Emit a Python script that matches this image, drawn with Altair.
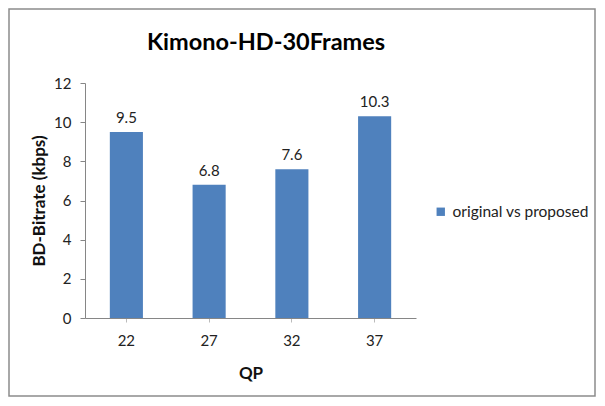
import altair as alt
import pandas as pd

qp = ["22", "27", "32", "37"]
bd_rate = [9.5, 6.8, 7.6, 10.3]
series = ["original vs proposed"] * 4
y_ticks = [0, 2, 4, 6, 8, 10, 12]
chart_title = ["Kimono-HD-30Frames"]

df = pd.DataFrame({"QP": qp, "BD": bd_rate, "series": series})
tdf = pd.DataFrame({"t": chart_title})

FONT = "Lato"
W, H = 331, 235

base = alt.Chart(df).encode(
    x=alt.X("QP:N", sort=qp,
            scale=alt.Scale(paddingInner=0.6, paddingOuter=0.3),
            axis=alt.Axis(title="QP", labelAngle=0, labelFontSize=15, labelColor="#222222",
                          labelFont=FONT, labelPadding=11, tickSize=4, tickColor="#BBBBBB",
                          domainColor="#868686", titleFont=FONT, titleFontSize=17,
                          titleFontWeight="bold", titlePadding=17, titleColor="#111111")),
    y=alt.Y("BD:Q", scale=alt.Scale(domain=[0, 12]),
            axis=alt.Axis(title="BD-Bitrate (kbps)", values=y_ticks, grid=False,
                          labelOverlap=False, labelFontSize=15, labelColor="#222222",
                          labelFont=FONT, labelPadding=9, tickSize=5, tickColor="#868686",
                          domainColor="#868686", titleFont=FONT, titleFontSize=17,
                          titleFontWeight="bold", titlePadding=5, titleColor="#111111")),
)

bars = base.mark_bar(color="#4F81BD").encode(
    color=alt.Color("series:N", scale=alt.Scale(range=["#4F81BD"]),
                    legend=alt.Legend(title=None, orient="none", legendX=348, legendY=121,
                                      symbolType="square", symbolSize=70, labelFont=FONT,
                                      labelFontSize=15.5, labelColor="#222222",
                                      symbolStrokeWidth=0)),
)

labels = base.mark_text(dy=-14, fontSize=15, font=FONT, color="#222222").encode(
    text=alt.Text("BD:Q", format=".1f"),
)

title = alt.Chart(tdf).mark_text(font=FONT, fontSize=23.5, fontWeight="bold", color="#000000",
                                 baseline="alphabetic", align="center").encode(
    x=alt.value(181), y=alt.value(-33), text="t:N"
)

border = alt.Chart(tdf).mark_rect(fill=None, stroke="#8C8C8C", strokeWidth=1.5).encode(
    x=alt.value(-76), x2=alt.value(510), y=alt.value(-74), y2=alt.value(313)
)

chart = alt.layer(border, bars, labels, title).properties(
    width=W, height=H,
    autosize=alt.AutoSizeParams(type="none"),
    padding={"left": 77, "top": 75, "right": 181, "bottom": 80},
).configure_view(stroke=None)

chart.save("out.html", embed_options={"renderer": "svg", "actions": False})
